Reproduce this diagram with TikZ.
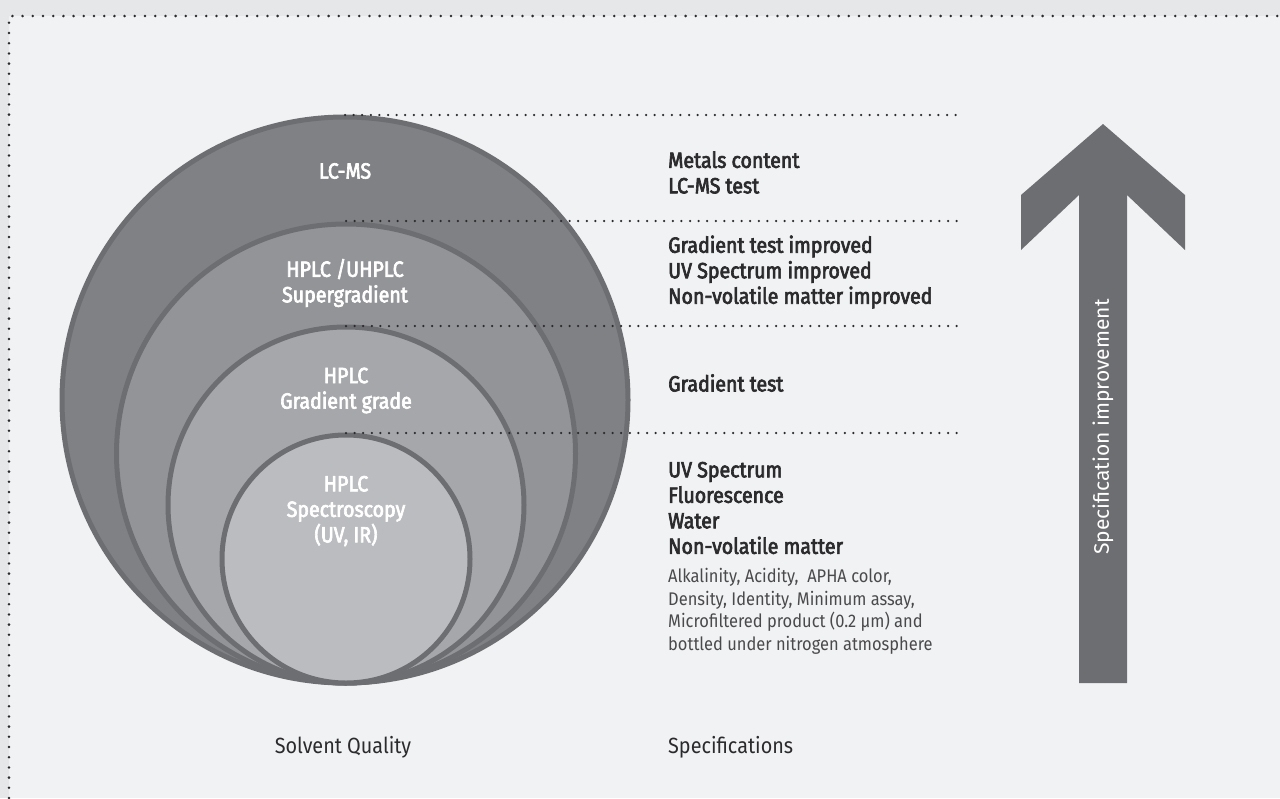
\documentclass[tikz,border=0pt]{standalone}
\usepackage{fontspec}
\setmainfont{Fira Sans}[FakeStretch=0.9]
\newfontfamily\medfont{Fira Sans}[FakeStretch=0.89, FakeBold=3]
\newfontfamily\plainfont{Fira Sans}
\definecolor{outerbg}{HTML}{E6E7E8}
\definecolor{panel}{HTML}{F1F2F4}
\definecolor{ringline}{HTML}{6D6E71}
\definecolor{fillA}{HTML}{808184}
\definecolor{fillB}{HTML}{939497}
\definecolor{fillC}{HTML}{A6A7AA}
\definecolor{fillD}{HTML}{BBBCBF}
\definecolor{ink}{HTML}{2B2B2D}
\definecolor{softink}{HTML}{4A4A4D}
\tikzset{
  frame/.style={draw=ink, line width=2.8pt, line cap=round, dash pattern=on 0pt off 10.2pt},
  guide/.style={draw=ink, line width=2.5pt, line cap=round, dash pattern=on 0pt off 8.6pt},
  ring/.style={circle, draw=ringline, line width=5pt, inner sep=0pt},
  circlabel/.style={text=white, align=center, font=\medfont\fontsize{22}{25.5}\selectfont, inner sep=0pt},
  spec/.style={text=ink, align=left, anchor=west, font=\medfont\fontsize{22}{25.5}\selectfont, inner sep=0pt},
  specsmall/.style={text=softink, align=left, anchor=west, font=\fontsize{18.3}{22.5}\selectfont, inner sep=0pt},
  caption/.style={text=ink, font=\fontsize{22}{25}\selectfont, inner sep=0pt},
}
\begin{document}
\begin{tikzpicture}[x=1pt,y=-1pt]
\useasboundingbox (0,0) rectangle (1280,798);
\fill[outerbg] (0,0) rectangle (1280,798);
\fill[panel] (9,16) rectangle (1280,798);
\draw[frame] (9,798) -- (9,16) -- (1280,16);

% nested circles
\node[ring, fill=fillA, minimum size=566pt] (c1) at (345,400) {};
\node[ring, fill=fillB, minimum size=459pt] (c2) at (346,453.5) {};
\node[ring, fill=fillC, minimum size=356pt] (c3) at (346,505) {};
\node[ring, fill=fillD, minimum size=248pt] (c4) at (346,559) {};

% guide lines
\coordinate (e1) at (960,115);
\coordinate (e2) at (960,221);
\coordinate (e3) at (960,326);
\coordinate (e4) at (960,433);
\draw[guide] (c1.north |- e1) -- (e1);
\draw[guide] (c2.north |- e2) -- (e2);
\draw[guide] (c3.north |- e3) -- (e3);
\draw[guide] (c4.north |- e4) -- (e4);

% circle labels
\node[circlabel] (l1) at (345,171) {LC-MS};
\node[circlabel] (l2) at (345,283) {HPLC /UHPLC\\Supergradient};
\node[circlabel] (l3) at (346,390.5) {HPLC\\Gradient grade};
\node[circlabel] (l4) at (346,511) {HPLC\\Spectroscopy\\(UV, IR)};

% specifications
\node[spec] (s1) at (668,172.5) {Metals content\\LC-MS test};
\node[spec] (s2) at (668,272) {Gradient test improved\\UV Spectrum improved\\Non-volatile matter improved};
\node[spec] (s3) at (668,383) {Gradient test};
\node[spec] (s4) at (668,508) {UV Spectrum\\Fluorescence\\Water\\Non-volatile matter};
\node[specsmall] (s5) at (668,611.5) {Alkalinity, Acidity,\ \ APHA color,\\Density, Identity, Minimum assay,\\Microfiltered product (0.2 µm) and\\bottled under nitrogen atmosphere};

% arrow
\fill[ringline] (1103,124) -- (1185,195) -- (1185,250) -- (1127,195) -- (1127,683)
  -- (1079,683) -- (1079,195) -- (1021,250) -- (1021,195) -- cycle;
\node[rotate=90, text=white, font=\plainfont\fontsize{21}{24}\selectfont, inner sep=0pt] (al) at (1103,427) {Specification improvement};

% captions
\node[caption] (cap1) at (343,747) {Solvent Quality};
\node[caption, anchor=west] (cap2) at (668,747) {Specifications};
\end{tikzpicture}
\end{document}
